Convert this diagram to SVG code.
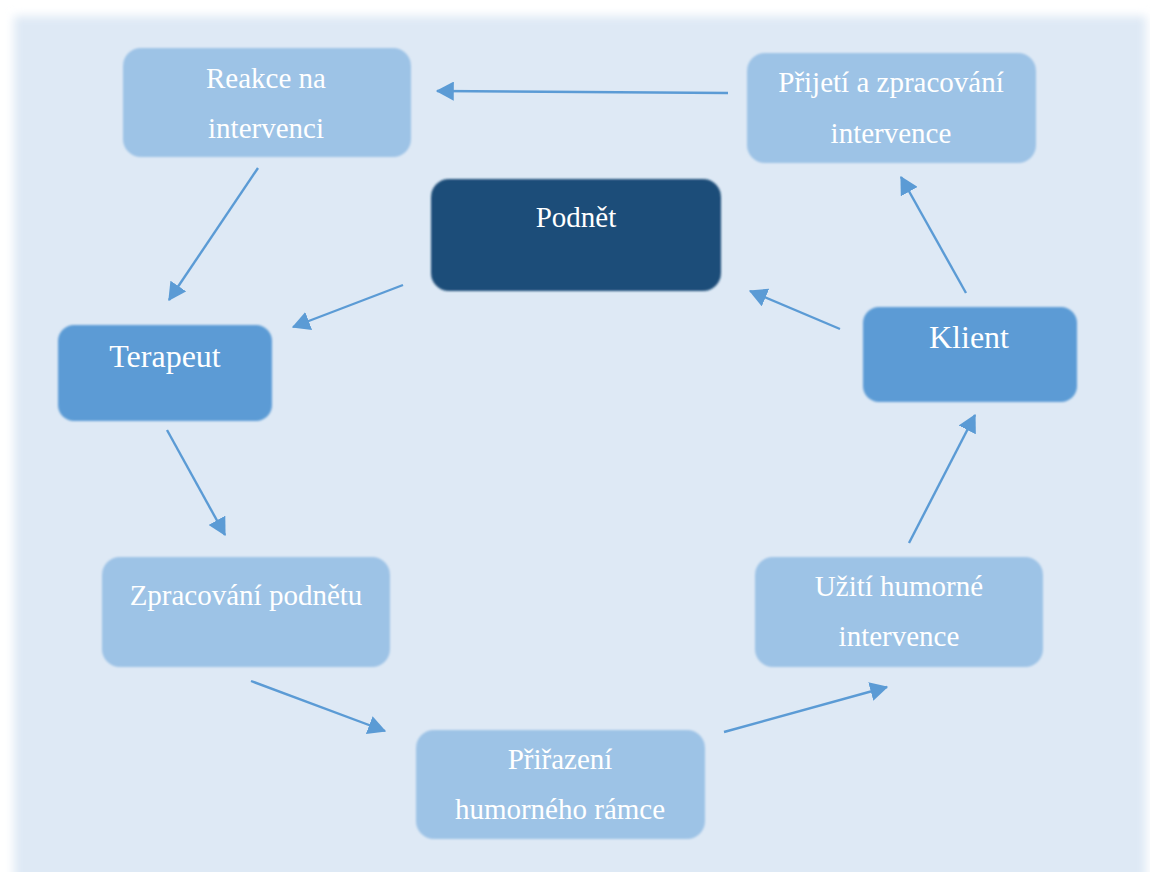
<svg xmlns="http://www.w3.org/2000/svg" width="1150" height="872" viewBox="0 0 1150 872">
<style>
.t{font-family:"Liberation Serif","Times New Roman",serif;fill:#fff;text-anchor:middle;font-size:29px}
.tb{font-size:32px}
.lt{fill:#9DC3E6}
.md{fill:#5B9BD5}
.dk{fill:#1F4E79}
.c{stroke:#5B9BD5;stroke-width:2.4;fill:none;marker-end:url(#ah)}
</style>
<defs>
<filter id="soft" x="-5%" y="-5%" width="110%" height="110%"><feGaussianBlur stdDeviation="5"/></filter>
<filter id="bx" x="-5%" y="-5%" width="110%" height="110%"><feGaussianBlur stdDeviation="1.2"/></filter>
<marker id="ah" markerWidth="8" markerHeight="8" refX="7" refY="4" orient="auto" markerUnits="strokeWidth">
<path d="M0,0 L7.5,4 L0,8 Z" fill="#5B9BD5"/>
</marker>
</defs>
<rect width="1150" height="872" fill="#fff"/>
<rect x="14" y="16" width="1132" height="880" fill="#DEE9F5" filter="url(#soft)"/>
<g id="connectors">
<line class="c" x1="728" y1="93" x2="437" y2="91"/>
<line class="c" x1="258" y1="168" x2="169" y2="300"/>
<line class="c" x1="403" y1="285" x2="293" y2="327"/>
<line class="c" x1="167" y1="430" x2="225" y2="535"/>
<line class="c" x1="251" y1="681" x2="385" y2="731"/>
<line class="c" x1="724" y1="732" x2="887" y2="687"/>
<line class="c" x1="909" y1="543" x2="975" y2="415"/>
<line class="c" x1="966" y1="293" x2="901" y2="177"/>
<line class="c" x1="840" y1="329" x2="750" y2="291"/>
</g>
<g id="n-reakce">
<rect class="lt" x="123" y="48" width="288" height="109" rx="18" filter="url(#bx)"/>
<text class="t" x="266" y="88">Reakce na</text>
<text class="t" x="266" y="138">intervenci</text>
</g>
<g id="n-prijeti">
<rect class="lt" x="747" y="53" width="289" height="110" rx="18" filter="url(#bx)"/>
<text class="t" x="891" y="92">Přijetí a zpracování</text>
<text class="t" x="891" y="143">intervence</text>
</g>
<g id="n-podnet">
<rect class="dk" x="431" y="179" width="290" height="112" rx="18" filter="url(#bx)"/>
<text class="t" x="576" y="227">Podnět</text>
</g>
<g id="n-terapeut">
<rect class="md" x="58" y="325" width="214" height="96" rx="16" filter="url(#bx)"/>
<text class="t tb" x="165" y="367">Terapeut</text>
</g>
<g id="n-klient">
<rect class="md" x="863" y="307" width="214" height="95" rx="16" filter="url(#bx)"/>
<text class="t tb" x="969" y="348">Klient</text>
</g>
<g id="n-zpracovani">
<rect class="lt" x="102" y="557" width="288" height="110" rx="18" filter="url(#bx)"/>
<text class="t" x="246" y="605">Zpracování podnětu</text>
</g>
<g id="n-uziti">
<rect class="lt" x="755" y="557" width="288" height="110" rx="18" filter="url(#bx)"/>
<text class="t" x="899" y="596">Užití humorné</text>
<text class="t" x="899" y="646">intervence</text>
</g>
<g id="n-prirazeni">
<rect class="lt" x="416" y="730" width="289" height="109" rx="18" filter="url(#bx)"/>
<text class="t" x="560" y="769">Přiřazení</text>
<text class="t" x="560" y="819">humorného rámce</text>
</g>
</svg>
